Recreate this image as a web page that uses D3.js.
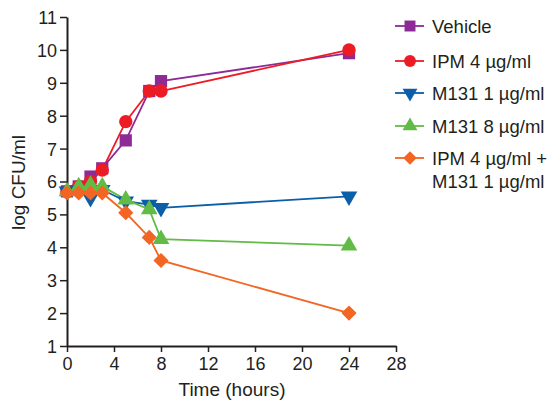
<!DOCTYPE html>
<html>
<head>
<meta charset="utf-8">
<script src="https://cdn.jsdelivr.net/npm/d3@7"></script>
<style>
  body { margin: 0; background: #fff; }
  text { font-family: "Liberation Sans", Arial, sans-serif; fill: #231f20; }
</style>
</head>
<body>
<svg id="chart" width="553" height="402"></svg>
<script>
const hours = [0, 1, 2, 3, 5, 7, 8, 24];
const vehicle = [5.7, 5.85, 6.15, 6.4, 7.25, 8.75, 9.05, 9.9];
const ipm4 = [5.7, 5.85, 6.0, 6.35, 7.82, 8.75, 8.75, 10.0];
const m131_1 = [5.7, 5.75, 5.5, 5.75, 5.4, 5.3, 5.2, 5.55];
const m131_8 = [5.7, 5.85, 5.9, 5.85, 5.45, 5.15, 4.25, 4.05];
const combo = [5.65, 5.65, 5.65, 5.65, 5.05, 4.3, 3.6, 2.0];
const xTicks = [0, 4, 8, 12, 16, 20, 24, 28];
const yTicks = d3.range(1, 12);

const series = [
  { name: ["Vehicle"], values: vehicle, color: "#8e2a95", symbol: d3.symbolSquare, size: 150, rot: 0 },
  { name: ["IPM 4 µg/ml"], values: ipm4, color: "#ed1c24", symbol: d3.symbolCircle, size: 140, rot: 0 },
  { name: ["M131 1 µg/ml"], values: m131_1, color: "#0b5ea8", symbol: d3.symbolTriangle, size: 120, rot: 180 },
  { name: ["M131 8 µg/ml"], values: m131_8, color: "#62bb46", symbol: d3.symbolTriangle, size: 120, rot: 0 },
  { name: ["IPM 4 µg/ml +", "M131 1 µg/ml"], values: combo, color: "#f26522", symbol: d3.symbolSquare, size: 115, rot: 45 }
];

const svg = d3.select("#chart");
const x = d3.scaleLinear().domain([0, 28]).range([67, 396]);
const y = d3.scaleLinear().domain([1, 11]).range([346, 17]);

const marker = s => d3.symbol(s.symbol, s.size)();

const xAxis = svg.append("g").attr("transform", `translate(0,${y(1)})`)
  .call(d3.axisBottom(x).tickValues(xTicks).tickSize(6).tickSizeOuter(0));
const yAxis = svg.append("g").attr("transform", `translate(${x(0)},0)`)
  .call(d3.axisLeft(y).tickValues(yTicks).tickSize(7).tickSizeOuter(0));
[xAxis, yAxis].forEach(g => {
  g.select(".domain").attr("stroke", "#231f20").attr("stroke-width", 2);
  g.selectAll(".tick line").attr("stroke", "#231f20").attr("stroke-width", 1.5);
  g.selectAll(".tick text").style("font-size", "18px").attr("fill", "#231f20");
});
xAxis.selectAll(".tick text").attr("y", 7).attr("dy", "0.95em");
yAxis.selectAll(".tick text").attr("x", -10).attr("dy", "0.36em");

svg.append("text").attr("x", 232).attr("y", 396).attr("text-anchor", "middle")
  .style("font-size", "19px").text("Time (hours)");
svg.append("text").attr("transform", `translate(25,${y(6) + 1}) rotate(-90)`)
  .attr("text-anchor", "middle").style("font-size", "19px").text("log CFU/ml");

const line = d3.line().x((d, i) => x(hours[i])).y(d => y(d));

series.forEach(s => {
  svg.append("path").attr("d", line(s.values)).attr("fill", "none")
    .attr("stroke", s.color).attr("stroke-width", 1.8);
});
series.forEach(s => {
  svg.append("g").selectAll("path").data(s.values).join("path")
    .attr("d", marker(s))
    .attr("transform", (d, i) => `translate(${x(hours[i])},${y(d)}) rotate(${s.rot})`)
    .attr("fill", s.color);
});

const legendY = [26, 61, 93, 126, 158];
series.forEach((s, i) => {
  const g = svg.append("g").attr("transform", `translate(395,${legendY[i]})`);
  g.append("line").attr("x1", 0).attr("x2", 29).attr("stroke", s.color).attr("stroke-width", 1.8);
  g.append("path").attr("d", d3.symbol(s.symbol, s.size * 0.8)())
    .attr("transform", `translate(15,0) rotate(${s.rot})`).attr("fill", s.color);
  s.name.forEach((t, j) => {
    g.append("text").attr("x", 37).attr("y", j * 23).attr("dy", "0.36em")
      .style("font-size", "18.5px").text(t);
  });
});
</script>
</body>
</html>
